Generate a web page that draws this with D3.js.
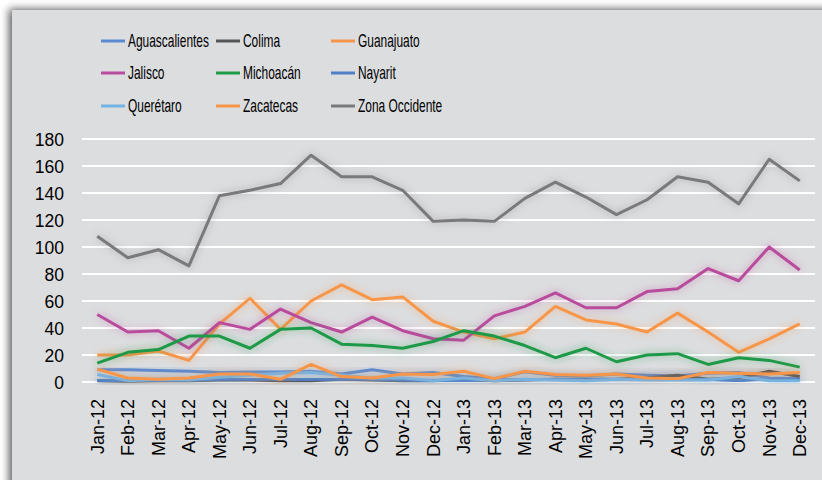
<!DOCTYPE html>
<html><head><meta charset="utf-8">
<script src="https://cdn.jsdelivr.net/npm/d3@7"></script>
<style>body{margin:0;background:#fff;}svg{display:block;}text{font-family:"Liberation Sans",Arial,sans-serif;}</style>
</head><body><svg id="c" width="822" height="480"></svg>
<script>
const months = ["Jan-12","Feb-12","Mar-12","Apr-12","May-12","Jun-12","Jul-12","Aug-12","Sep-12","Oct-12","Nov-12","Dec-12",
"Jan-13","Feb-13","Mar-13","Apr-13","May-13","Jun-13","Jul-13","Aug-13","Sep-13","Oct-13","Nov-13","Dec-13"];
const yTicks = [0,20,40,60,80,100,120,140,160,180];
const aguascalientes = [9,9,8.5,8,7,7.5,7.5,8,6,9,6,7, 4,2.5,7.5,5,4.5,6,5,4.5,6.5,7,3,2.5];
const colima = [1,0.5,1,1,1.5,1.5,1,1,2,1.5,1,1, 2,1,1.5,2,2,2,3,5,2,3,8,4];
const guanajuato = [20,20,23,16,43,62,39,60,72,61,63,45, 37,32,37,56,46,43,37,51,37,22,32,43];
const jalisco = [50,37,38,25,44,39,54,44,37,48,38,32, 31,49,56,66,55,55,67,69,84,75,100,83];
const michoacan = [14,22,24,34,34,25,39,40,28,27,25,30, 38,34,27,18,25,15,20,21,13,18,16,11];
const nayarit = [1,1,1,1.5,2,2,2,2,2,2,1.5,1, 1,1.5,2,2,2,2,2,2.5,2,1,2.5,2];
const queretaro = [5.5,1,2,1.5,3.5,5,6.5,7,5,3,3,1, 3,1,2,1.5,1,2,1.5,1.5,1.5,4,1,1];
const zacatecas = [9.5,3,2,3,6,6,2,13,4,3,6,5.5, 8,2.5,8,5.5,5,6,3,2.5,7,6.5,6,7];
const zona = [108,92,98,86,138,142,147,168,152,152,142,119, 120,119,136,148,137,124,135,152,148,132,165,149];

const seriesNames = ["Aguascalientes","Colima","Guanajuato","Jalisco","Michoacán","Nayarit","Querétaro","Zacatecas","Zona Occidente"];
const seriesValues = [aguascalientes,colima,guanajuato,jalisco,michoacan,nayarit,queretaro,zacatecas,zona];
const colors = ["#5b8ad0","#555555","#f7964a","#b94c9c","#1f9a48","#4f7fc4","#72b3e6","#f7964a","#7a7a7b"];

const svg = d3.select("#c");
const defs = svg.append("defs");
const sh = defs.append("filter").attr("id","panelShadow").attr("x","-5%").attr("y","-5%").attr("width","110%").attr("height","110%");
sh.append("feGaussianBlur").attr("in","SourceAlpha").attr("stdDeviation",4);
sh.append("feOffset").attr("dx",-3).attr("dy",-1).attr("result","b");
sh.append("feComponentTransfer").append("feFuncA").attr("type","linear").attr("slope",0.65);
const m1 = sh.append("feMerge"); m1.append("feMergeNode"); m1.append("feMergeNode").attr("in","SourceGraphic");

const glow = defs.append("filter").attr("id","glow").attr("x","-10%").attr("y","-30%").attr("width","120%").attr("height","160%");
glow.append("feGaussianBlur").attr("in","SourceGraphic").attr("stdDeviation",4).attr("result","bl");
glow.append("feComponentTransfer").attr("in","bl").attr("result","bl2").append("feFuncA").attr("type","linear").attr("slope",0.55);
const m2 = glow.append("feMerge"); m2.append("feMergeNode").attr("in","bl2"); m2.append("feMergeNode").attr("in","SourceGraphic");

svg.append("rect").attr("x",12).attr("y",10).attr("width",830).attr("height",480).attr("fill","#dcdddf").attr("filter","url(#panelShadow)");

const x = d3.scaleBand().domain(months).range([82,815]);
const y = d3.scaleLinear().domain([0,180]).range([382,139]);

// gridlines
svg.append("g").selectAll("line").data(yTicks).join("line")
  .attr("x1",82).attr("x2",815).attr("y1",d=>y(d)).attr("y2",d=>y(d))
  .attr("stroke","#ffffff").attr("stroke-width",2);

// y axis
const yAxis = svg.append("g").attr("transform","translate(64,0)")
  .call(d3.axisLeft(y).tickValues(yTicks).tickSize(0).tickPadding(0));
yAxis.select(".domain").remove();
yAxis.selectAll("text").attr("font-size",17.5).attr("fill","#000").attr("dy","0.35em")
  .style("font-family","'Liberation Sans',Arial,sans-serif");

// x axis
const xAxis = svg.append("g").attr("transform","translate(0,399)")
  .call(d3.axisBottom(x).tickSize(0).tickPadding(0));
xAxis.select(".domain").remove();
xAxis.selectAll("text").attr("font-size",18).attr("fill","#000")
  .style("font-family","'Liberation Sans',Arial,sans-serif")
  .attr("text-anchor","end").attr("transform","rotate(-90)").attr("x",0).attr("y",0).attr("dy","0.35em");

// lines
const line = d3.line().x((d,i)=>x(months[i])+x.bandwidth()/2).y(d=>y(d));
const lg = svg.append("g");
seriesValues.forEach((vals,k)=>{
  lg.append("path").datum(vals).attr("d",line).attr("fill","none")
    .attr("stroke",colors[k]).attr("stroke-width",3).attr("stroke-linejoin","round")
    .attr("filter","url(#glow)");
});

// legend
const legX = [101,216,331];
const legY = [41,73,106];
const leg = svg.append("g");
const texts = [];
seriesNames.forEach((n,i)=>{
  const cx = legX[i%3], cy = legY[Math.floor(i/3)];
  leg.append("line").attr("x1",cx).attr("x2",cx+24).attr("y1",cy).attr("y2",cy)
    .attr("stroke",colors[i]).attr("stroke-width",3);
  texts.push({t: leg.append("text").attr("x",0).attr("y",0).attr("dy","0.36em")
    .attr("font-size",18).attr("fill","#000").text(n), cx: cx+27, cy: cy});
});
const factor = 81 / texts[0].t.node().getComputedTextLength();
texts.forEach(o=>{
  o.t.attr("transform", `translate(${o.cx},${o.cy}) scale(${factor},1)`);
});
</script></body></html>
